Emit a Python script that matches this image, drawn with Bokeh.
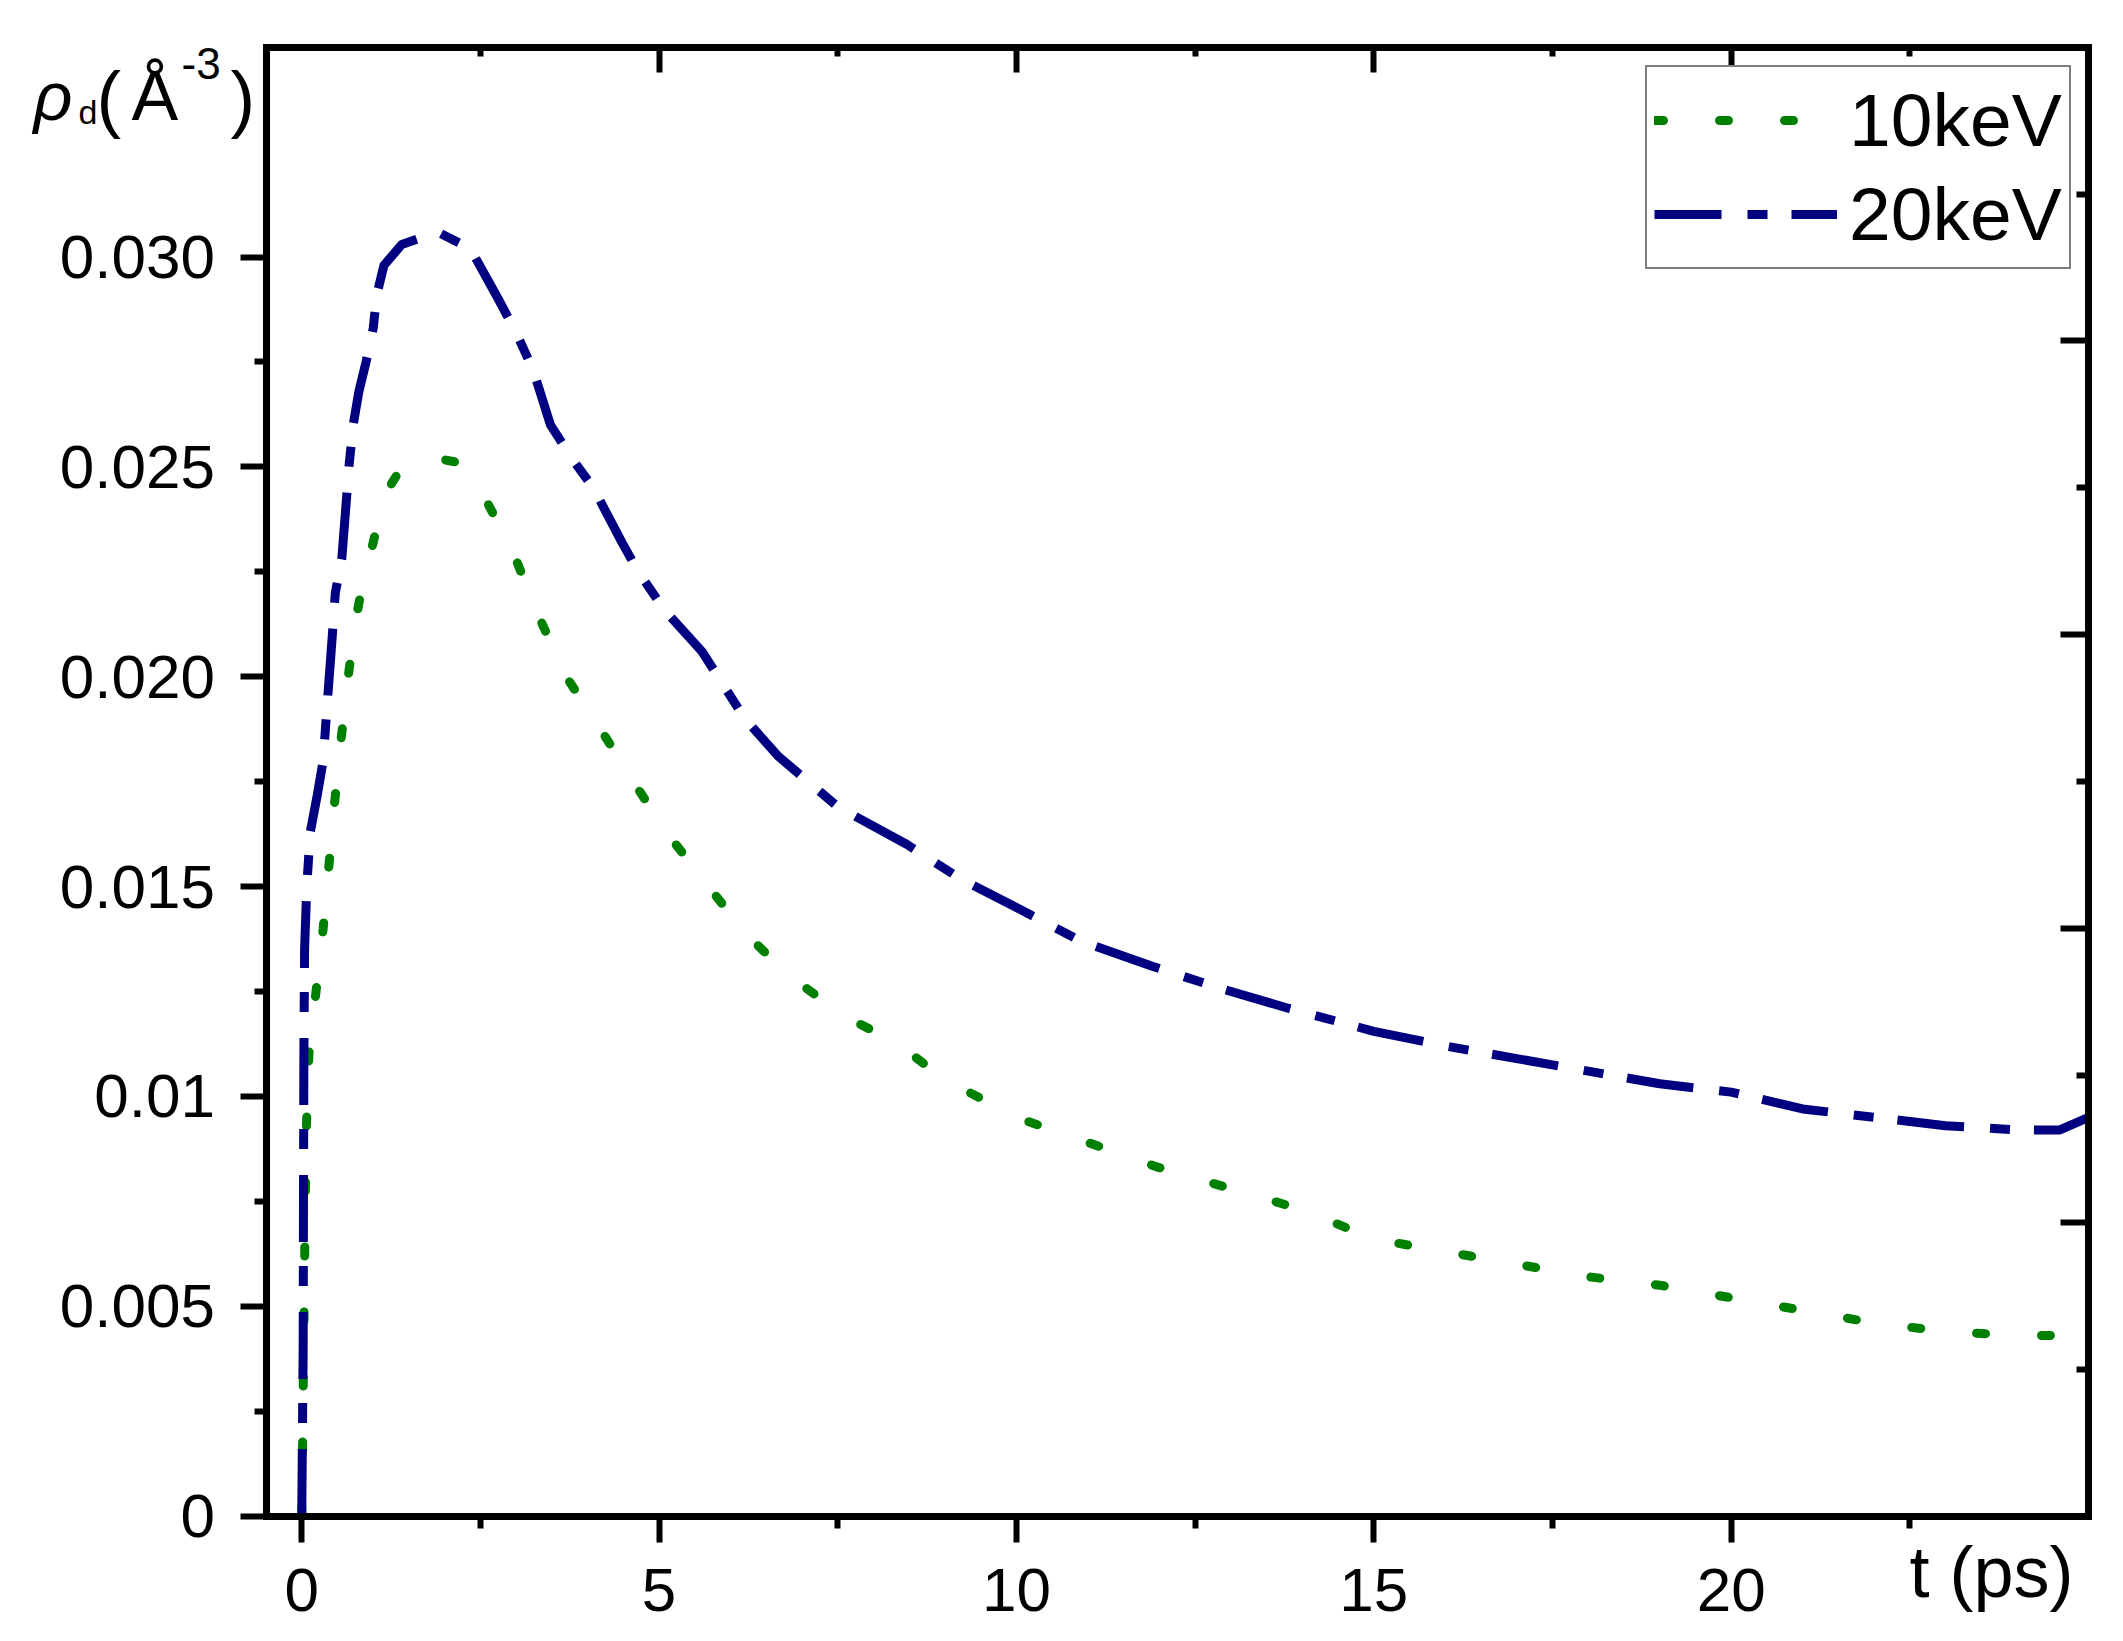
from bokeh.plotting import figure
from bokeh.models import Range1d, LinearAxis, FixedTicker, Label, Legend, LegendItem
from bokeh.embed import file_html
from bokeh.resources import INLINE

# ---------------- data ----------------
t_10kev = [0.0, 0.02, 0.04, 0.06, 0.1, 0.2, 0.3, 0.38, 0.46, 0.55, 0.65, 0.75, 0.85, 1.0, 1.15, 1.4,
           1.9, 2.2, 2.55, 2.95, 3.3, 3.7, 4.2, 4.6, 5.1, 5.6, 6.2, 6.8, 7.6, 8.3, 9.0, 10.0,
           11.0, 12.0, 13.0, 14.0, 15.0, 16.0, 17.0, 18.0, 19.0, 20.0, 21.0, 22.0, 23.0, 24.0,
           24.6, 25.0]
rho_10kev = [0.0, 0.003, 0.006, 0.009, 0.011, 0.0125, 0.014, 0.0155, 0.017, 0.0185, 0.0200, 0.0213,
             0.0222, 0.0232, 0.0243, 0.0250, 0.0252, 0.0251, 0.0243, 0.0230, 0.0215, 0.0200, 0.0187,
             0.0176, 0.0163, 0.0152, 0.0139, 0.0129, 0.0119, 0.0113, 0.0104, 0.0095, 0.0089, 0.0083,
             0.0078, 0.0073, 0.0066, 0.0063, 0.0060, 0.0057, 0.0055, 0.0052, 0.0049, 0.0046, 0.0044,
             0.0043, 0.0043, 0.0046]

t_20kev = [0.0, 0.02, 0.025, 0.03, 0.04, 0.07, 0.12, 0.22, 0.3, 0.35, 0.42, 0.47, 0.56, 0.62, 0.66,
           0.72, 0.8, 0.9, 1.0, 1.05, 1.15, 1.4, 1.9, 2.36, 2.75, 3.0, 3.24, 3.48, 3.78, 4.08, 4.48,
           4.71, 5.07, 5.6, 6.2, 6.67, 7.5, 8.47, 9.2, 10.0, 10.9, 11.9, 12.8, 13.8, 15.0, 16.0,
           17.0, 18.0, 19.0, 20.0, 21.0, 22.0, 23.0, 24.0, 24.6, 25.0]
rho_20kev = [0.0, 0.004, 0.008, 0.011, 0.0135, 0.0150, 0.0163, 0.0172, 0.0180, 0.0192, 0.0208, 0.0220,
             0.0228, 0.0241, 0.0250, 0.0260, 0.0268, 0.0275, 0.0283, 0.0291, 0.0298, 0.0303, 0.0306,
             0.0302, 0.0290, 0.0282, 0.0273, 0.0260, 0.0252, 0.0245, 0.0232, 0.0225, 0.0216, 0.0206,
             0.0190, 0.0181, 0.0169, 0.0160, 0.0152, 0.0145, 0.0137, 0.0131, 0.0126, 0.0121, 0.01155,
             0.0112, 0.0109, 0.0106, 0.0103, 0.0101, 0.0097, 0.0095, 0.0093, 0.0092, 0.0092, 0.0095]

series_labels = ["10keV", "20keV"]

x_major = [0, 5, 10, 15, 20]
x_minor = [2.5, 7.5, 12.5, 17.5, 22.5]
x_top_major = [5, 10, 15, 20]
y_major = [0.0, 0.005, 0.010, 0.015, 0.020, 0.025, 0.030]
y_major_labels = ["0", "0.005", "0.01", "0.015", "0.020", "0.025", "0.030"]
y_minor = [0.0025, 0.0075, 0.0125, 0.0175, 0.0225, 0.0275]
right_major = [0.007, 0.014, 0.021, 0.028]
right_minor = [0.0035, 0.0105, 0.0175, 0.0245, 0.0315]

# ---------------- layout constants (pixels) ----------------
FONT = "Liberation Sans"
GREEN = "#008000"
NAVY = "#000080"

CANVAS_W, CANVAS_H = 2107, 1625
BOX_L, BOX_R, BOX_T, BOX_B = 265.5, 2088.0, 46.7, 1515.5   # the axes box
X_LO, X_HI = -0.5, 25.0
Y_LO, Y_HI = 0.0, 0.035

kx = (X_HI - X_LO) / (BOX_R - BOX_L)
ky = (Y_HI - Y_LO) / (BOX_B - BOX_T)
x_rng = Range1d(X_LO - BOX_L * kx, X_HI + (CANVAS_W - BOX_R) * kx)
y_rng = Range1d(Y_LO - (CANVAS_H - BOX_B) * ky, Y_HI + BOX_T * ky)

p = figure(width=CANVAS_W, height=CANVAS_H, x_range=x_rng, y_range=y_rng,
           x_axis_location=None, y_axis_location=None,
           output_backend="svg", toolbar_location=None,
           min_border=0, min_border_left=0, min_border_right=0,
           min_border_top=0, min_border_bottom=0)
p.title.visible = False
p.xgrid.visible = False
p.ygrid.visible = False
p.outline_line_color = None
p.background_fill_color = "white"
p.border_fill_color = "white"


def make_axis(ticks, minor, fixed, bounds, maj_in, maj_out, min_in, min_out, labels=None):
    ax = LinearAxis(ticker=FixedTicker(ticks=ticks, minor_ticks=minor),
                    fixed_location=fixed, bounds=bounds)
    ax.axis_line_color = "black"
    ax.axis_line_width = 7
    ax.axis_line_cap = "square"
    ax.major_tick_line_color = "black"
    ax.minor_tick_line_color = "black"
    ax.major_tick_line_width = 6
    ax.minor_tick_line_width = 6
    ax.major_tick_in = maj_in
    ax.major_tick_out = maj_out
    ax.minor_tick_in = min_in
    ax.minor_tick_out = min_out
    if labels is None:
        ax.major_label_text_color = None
        ax.major_label_text_font_size = "1px"
    else:
        ax.major_label_text_font = FONT
        ax.major_label_text_color = "black"
        ax.major_label_text_font_size = "62px"
        if labels:
            ax.major_label_overrides = labels
    return ax


xb = make_axis(x_major, x_minor, Y_LO, (X_LO, X_HI), 0, 26, 0, 12, labels={})
xb.major_label_standoff = 27
p.add_layout(xb, "below")

yl = make_axis(y_major, y_minor, X_LO, (Y_LO, Y_HI), 0, 26, 0, 12,
               labels={v: s for v, s in zip(y_major, y_major_labels)})
yl.major_label_standoff = 25
p.add_layout(yl, "left")

xt = make_axis(x_top_major, x_minor, Y_HI, (X_LO, X_HI), 25, 0, 9, 0)
p.add_layout(xt, "above")

yr = make_axis(right_major, right_minor, X_HI, (Y_LO, Y_HI), 28, 0, 12, 0)
p.add_layout(yr, "right")

r10 = p.line(t_10kev, rho_10kev, line_color=GREEN, line_width=9, line_dash="9 56",
             line_cap="round", line_join="round")
r20 = p.line(t_20kev, rho_20kev, line_color=NAVY, line_width=9, line_dash="67 26 20 24",
             line_cap="butt", line_join="round")

legend = Legend(items=[LegendItem(label=series_labels[0], renderers=[r10]),
                       LegendItem(label=series_labels[1], renderers=[r20])],
                location=(1645, CANVAS_H - 269), orientation="vertical",
                label_text_font=FONT, label_text_font_size="75px", label_text_color="black",
                glyph_width=183, glyph_height=30, label_height=92, label_standoff=12,
                spacing=2, padding=7, margin=0,
                border_line_color="black", border_line_width=2.5,
                background_fill_color="white", background_fill_alpha=1.0)
p.add_layout(legend)

TEXT_SHIFT = 27   # rendered baseline sits this much lower than asked


def add_text(txt, px, py, size, style="normal"):
    # px, py: pixel position of the text's left end / baseline, from the top-left corner
    p.add_layout(Label(x=px, y=CANVAS_H - (py - TEXT_SHIFT), x_units="screen", y_units="screen",
                       text=txt, text_font=FONT, text_font_size=size, text_font_style=style,
                       text_color="black", text_align="left", text_baseline="alphabetic"))


# y-axis title: rho_d (Å^-3)
add_text("\u03c1", 33, 122, "68px", "italic")
add_text("d", 78, 138, "34px")
add_text("(", 96, 125, "74px")
add_text("\u00c5", 131, 122, "70px")
add_text("-3", 181, 90, "44px")
add_text(")", 230, 125, "74px")

# x-axis title
add_text("t (ps)", 1909, 1598, "72px")

open("out.html", "w").write(file_html(p, INLINE))
